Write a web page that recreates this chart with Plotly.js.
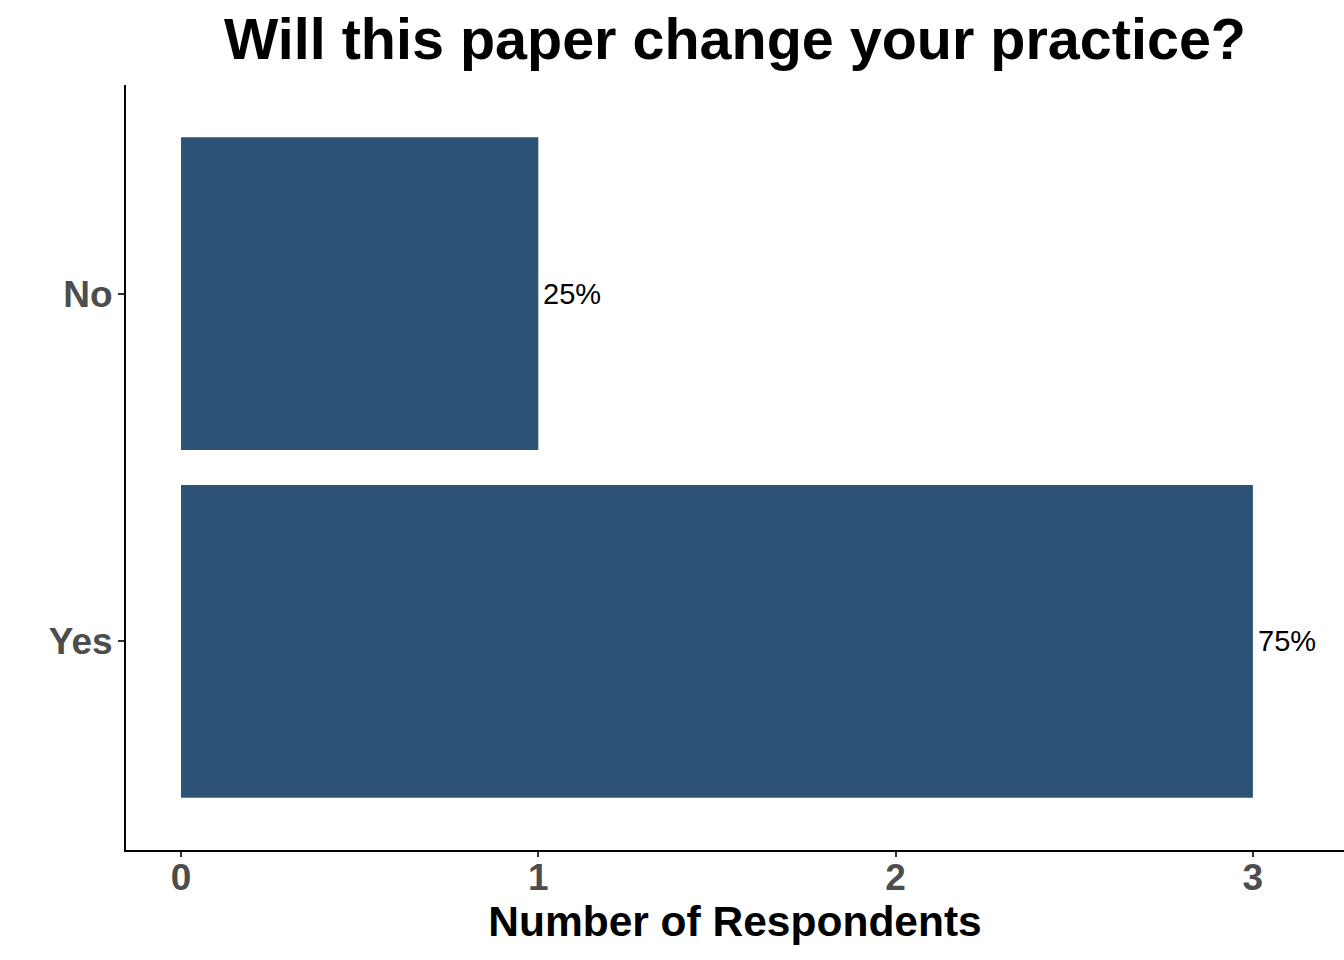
<!DOCTYPE html>
<html>
<head>
<meta charset="utf-8">
<script src="https://cdn.plot.ly/plotly-3.0.1.min.js"></script>
<style>html,body{margin:0;padding:0;background:#fff}#chart{width:1344px;height:960px}</style>
</head>
<body>
<div id="chart"></div>
<script>
const categories = ["Yes", "No"];
const counts = [3, 1];
const pctLabels = ["75%", "25%"];
const xTicks = [0, 1, 2, 3];

const font = "Liberation Sans, Arial, sans-serif";

const data = [
  {
    type: "bar",
    orientation: "h",
    x: counts,
    y: categories,
    width: 0.9,
    marker: {color: "#2C5275", line: {width: 0}},
    hoverinfo: "skip"
  }
];

const annotations = categories.map((c, i) => ({
  x: counts[i],
  y: c,
  xref: "x",
  yref: "y",
  text: pctLabels[i],
  showarrow: false,
  xanchor: "left",
  yanchor: "middle",
  xshift: 3,
  font: {family: font, size: 29, color: "#000000"}
}));

const layout = {
  width: 1344,
  height: 960,
  paper_bgcolor: "#ffffff",
  plot_bgcolor: "#ffffff",
  showlegend: false,
  margin: {l: 126, r: 0, t: 85, b: 110},
  annotations: annotations,
  title: {
    text: "<b>Will this paper change your practice?</b>",
    font: {family: font, size: 57.5, color: "#000000"},
    x: 0.5469, xanchor: "center",
    yref: "container", y: 0.960, yanchor: "middle"
  },
  xaxis: {
    range: [-0.154, 3.255],
    tickvals: xTicks,
    ticktext: xTicks.map(String),
    showgrid: false,
    zeroline: false,
    showline: true,
    linecolor: "#000000",
    linewidth: 2,
    ticks: "outside",
    ticklen: 5,
    tickwidth: 2,
    tickcolor: "#333333",
    ticklabelstandoff: -11,
    tickfont: {family: font, size: 37, color: "#4D4D4D", weight: "bold"},
    title: {
      text: "<b>Number of Respondents</b>",
      font: {family: font, size: 42.5, color: "#000000"},
      standoff: 8
    },
    fixedrange: true
  },
  yaxis: {
    type: "category",
    categoryorder: "array",
    categoryarray: categories,
    range: [-0.6, 1.6],
    showgrid: false,
    zeroline: false,
    showline: true,
    linecolor: "#000000",
    linewidth: 2,
    ticks: "outside",
    ticklen: 6,
    tickwidth: 2,
    tickcolor: "#333333",
    ticklabelstandoff: -2,
    tickfont: {family: font, size: 37, color: "#4D4D4D", weight: "bold"},
    fixedrange: true
  }
};

Plotly.newPlot("chart", data, layout, {displayModeBar: false, staticPlot: true});
</script>
</body>
</html>
